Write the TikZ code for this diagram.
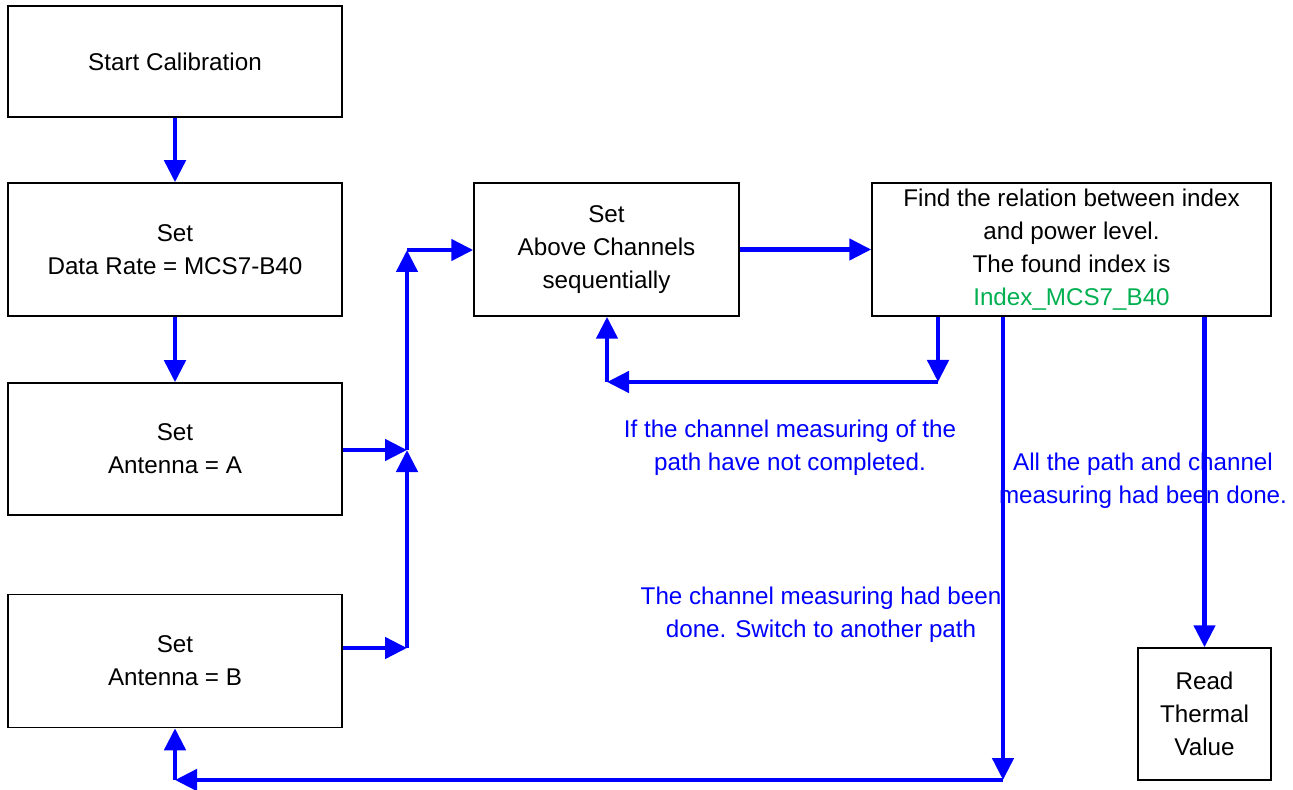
\documentclass[tikz,border=0pt]{standalone}
\usepackage{fontspec}
\setmainfont{Liberation Sans}
\usepackage{tikz}
\usetikzlibrary{positioning}
\usetikzlibrary{arrows.meta}
\usepackage{xcolor}
\definecolor{myblue}{RGB}{0,0,255}
\definecolor{mygreen}{RGB}{0,176,80}
\tikzstyle{node_cust}=[draw=black, line width=0.75pt, align=center, inner sep=0pt,
  font=\fontsize{12.1}{16.6}\selectfont]
\tikzstyle{note}=[align=center, inner sep=0pt, text=myblue,
  font=\fontsize{12.1}{16.6}\selectfont]
\tikzstyle{connect arrow}=[-{Triangle[length=11pt,width=10.5pt]},line width=2.3pt,myblue]
\tikzstyle{connect}=[line width=2.3pt,myblue]

\begin{document}
\begin{tikzpicture}[x=0.5pt, y=-0.5pt]
\useasboundingbox (0,0) rectangle (1293,790);

% left column
        \node[node_cust, minimum width=167pt, minimum height=55.5pt] (start) at (175,61.5) {Start Calibration};
        \node[node_cust, minimum width=167pt, minimum height=66.5pt] (rate) at (175,249.5) {Set\\Data Rate = MCS7-B40};
        \node[node_cust, minimum width=167pt, minimum height=66pt] (antA) at (175,449) {Set\\Antenna = A};
        \node[node_cust, minimum width=167pt, minimum height=66.5pt] (antB) at (175,661) {Set\\Antenna = B};
        % top row
        \node[node_cust, minimum width=132.5pt, minimum height=66.5pt] (chan) at (606.5,249.5) {Set\\Above Channels\\sequentially};
        \node[node_cust, minimum width=199.5pt, minimum height=66.5pt] (find) at (1071.5,249.5) {Find the relation between index\\and power level.\\The found index is\\\textcolor{mygreen}{Index\_MCS7\_B40}};
        \node[node_cust, minimum width=66.5pt, minimum height=66pt] (read) at (1204.5,714) {Read\\Thermal\\Value};

        % joints
        \coordinate (jA) at (407,450);
        \coordinate (jB) at (407,648);
        \coordinate (jT) at (407,250);
        \coordinate (loopR) at (938,382);
        \coordinate (loopL) at (607,382);
        \coordinate (backR) at (1003,780);
        \coordinate (backL) at (175,780);

        % notes
        \node[note] (notLoop) at (790,448) {If the channel measuring of the\\path have not completed.};
        \node[note] (notNext) at (821,615) {The channel measuring had been\\done. Switch to another path};
        \node[note] (notDone) at (1143,481) {All the path and channel\\measuring had been done.};

        \begin{scope}[connect arrow]
            \draw (start.south) -- (rate.north);
            \draw (rate.south) -- (antA.north);
            \draw (antA.east |- jA) -- (jA);
            \draw (antB.east |- jB) -- (jB);
            \draw (jB) -- (jA);
            \draw (jA) -- (jT);
            \draw (jT) -- (chan.west |- jT);
            \draw (chan.east) -- (find.west);

            \draw (find.south -| loopR) -- (loopR);
            \draw (loopR) -- (loopL);
            \draw (loopL) -- (chan.south -| loopL);

            \draw (find.south -| backR) -- (backR);
            \draw (backR) -- (backL);
            \draw (backL) -- (antB.south);

            \draw (find.south -| read.north) -- (read.north);
        \end{scope}

\end{tikzpicture}
\end{document}
